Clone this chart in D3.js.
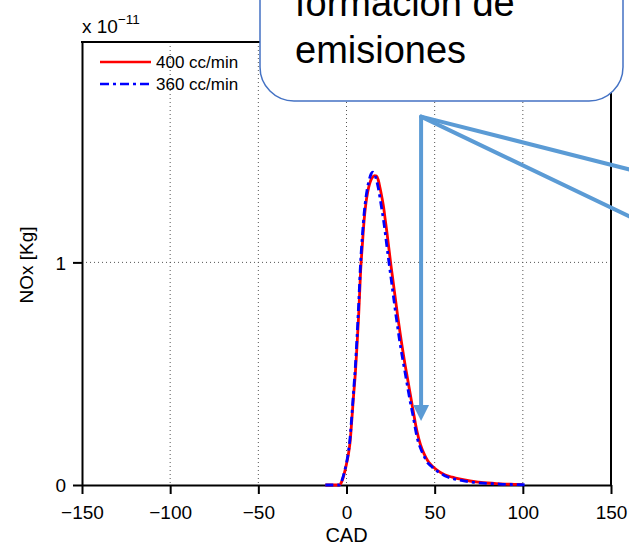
<!DOCTYPE html>
<html>
<head>
<meta charset="utf-8">
<script src="https://cdn.jsdelivr.net/npm/d3@7"></script>
<style>
  html, body { margin: 0; padding: 0; background: #fff; }
  svg { display: block; }
  text { font-family: "Liberation Sans", Arial, sans-serif; }
</style>
</head>
<body>
<svg id="chart" width="629" height="546"></svg>
<script>
// Crank angle (deg) sample points
const cad400 = [-12, -8, -4, -3, -2, -1, 0, 1, 2, 3, 4, 5, 6, 7, 8, 9, 10, 11, 12, 13, 14, 15, 16, 17, 18, 19, 20,
  21, 22, 23, 24, 25, 26, 27, 28, 29, 30, 31, 32, 33, 34, 35, 36, 37, 38, 39, 40, 42, 44, 46, 48, 50,
  53, 56, 60, 64, 70, 75, 80, 85, 90, 95, 100];
// NOx mass, units of 1e-11 kg — 400 cc/min
const nox400 = [0, 0, 0, 0.01, 0.03, 0.06, 0.095, 0.135, 0.19, 0.29, 0.40, 0.50, 0.63, 0.78, 0.96, 1.08, 1.19,
  1.265, 1.315, 1.35, 1.373, 1.385, 1.39, 1.388, 1.37, 1.335, 1.295, 1.25, 1.19, 1.13, 1.065, 1.0, 0.94,
  0.88, 0.82, 0.76, 0.705, 0.65, 0.60, 0.55, 0.505, 0.46, 0.415, 0.37, 0.325, 0.28, 0.24, 0.18, 0.14, 0.11,
  0.09, 0.075, 0.058, 0.045, 0.035, 0.027, 0.018, 0.013, 0.009, 0.006, 0.004, 0.003, 0.002];

const cad360 = [-12, -8, -4, -3, -2, -1, 0, 1, 2, 3, 4, 5, 6, 7, 8, 9, 10, 11, 12, 13, 14, 15, 16, 17, 18, 19, 20,
  21, 22, 23, 24, 25, 26, 27, 28, 29, 30, 31, 32, 33, 34, 35, 36, 37, 38, 39, 40, 42, 44, 46, 48, 50,
  53, 56, 60, 64, 70, 75, 80, 85, 90, 95, 101];
// NOx mass, units of 1e-11 kg — 360 cc/min
const nox360 = [0, 0, 0, 0.012, 0.035, 0.065, 0.10, 0.145, 0.21, 0.31, 0.42, 0.53, 0.67, 0.83, 1.0, 1.12, 1.22,
  1.29, 1.34, 1.375, 1.398, 1.405, 1.395, 1.37, 1.335, 1.29, 1.24, 1.19, 1.13, 1.065, 1.005, 0.945, 0.885,
  0.825, 0.765, 0.71, 0.655, 0.605, 0.56, 0.515, 0.47, 0.425, 0.38, 0.34, 0.30, 0.255, 0.215, 0.165, 0.13,
  0.10, 0.085, 0.07, 0.055, 0.04, 0.03, 0.022, 0.014, 0.01, 0.007, 0.005, 0.003, 0.002, 0.001];

const seriesNames = ["400 cc/min", "360 cc/min"];
const xTicks = [-150, -100, -50, 0, 50, 100, 150];
const yTicks = [0, 1];
const calloutLines = ["formación de", "emisiones"];

const svg = d3.select("#chart");
const x = d3.scaleLinear().domain([-150, 150]).range([82, 611]);
const y = d3.scaleLinear().domain([0, 1.99]).range([485, 42]);

const fmt = v => (v < 0 ? "\u2212" + Math.abs(v) : String(v));

// grid
const grid = svg.append("g").attr("stroke", "#555").attr("stroke-width", 1)
  .attr("stroke-dasharray", "1,3");
xTicks.filter(t => t > -150 && t < 150).forEach(t => {
  grid.append("line").attr("x1", x(t)).attr("x2", x(t)).attr("y1", y.range()[1]).attr("y2", y(0));
});
yTicks.filter(t => t > 0).forEach(t => {
  grid.append("line").attr("x1", x(-150)).attr("x2", x(150)).attr("y1", y(t)).attr("y2", y(t));
});

// axes
const xAxis = d3.axisBottom(x).tickValues(xTicks).tickFormat(fmt).tickSizeInner(9).tickSizeOuter(0).tickPadding(12);
const gx = svg.append("g").attr("transform", `translate(0,${y(0)})`).call(xAxis);
const yAxis = d3.axisLeft(y).tickValues(yTicks).tickFormat(fmt).tickSizeInner(9).tickSizeOuter(0).tickPadding(7);
const gy = svg.append("g").attr("transform", `translate(${x(-150)},0)`).call(yAxis);
[gx, gy].forEach(g => {
  g.select(".domain").attr("stroke", "#000").attr("stroke-width", 2);
  g.selectAll(".tick line").attr("stroke", "#000").attr("stroke-width", 2);
  g.selectAll(".tick text").attr("fill", "#000").attr("font-size", 19)
    .attr("font-family", "'Liberation Sans', Arial, sans-serif");
});
gy.selectAll(".tick text").attr("dy", "0.36em");

// box top / right
svg.append("line").attr("x1", x(-150) - 1).attr("x2", x(150) + 1).attr("y1", y.range()[1]).attr("y2", y.range()[1])
  .attr("stroke", "#000").attr("stroke-width", 2);
svg.append("line").attr("x1", x(150)).attr("x2", x(150)).attr("y1", y.range()[1]).attr("y2", y(0))
  .attr("stroke", "#000").attr("stroke-width", 2);

// axis labels
svg.append("text").attr("x", (x(-150) + x(150)) / 2).attr("y", 542).attr("text-anchor", "middle")
  .attr("font-size", 20).text("CAD");
svg.append("text").attr("transform", `translate(33,265) rotate(-90)`)
  .attr("text-anchor", "middle").attr("font-size", 19).text("NOx [Kg]");

// exponent
const ex = svg.append("text").attr("x", 82).attr("y", 33).attr("font-size", 19);
ex.append("tspan").text("x 10");
ex.append("tspan").attr("dy", -9).attr("font-size", 13.5).text("\u221211");

// curves
const line = d3.line().x(d => x(d[0])).y(d => y(d[1])).curve(d3.curveMonotoneX);
const d400 = cad400.map((c, i) => [c, nox400[i]]);
const d360 = cad360.map((c, i) => [c, nox360[i]]);
svg.append("path").datum(d400).attr("d", line).attr("fill", "none")
  .attr("stroke", "#ff0000").attr("stroke-width", 2.8);
svg.append("path").datum(d360).attr("d", line).attr("fill", "none")
  .attr("stroke", "#0000ff").attr("stroke-width", 2.8).attr("stroke-dasharray", "8,4,3,4");

// legend
const leg = svg.append("g");
[["#ff0000", null], ["#0000ff", "9,4,3,4"]].forEach((s, i) => {
  const ly = 62 + i * 22;
  leg.append("line").attr("x1", 100).attr("x2", 151).attr("y1", ly).attr("y2", ly)
    .attr("stroke", s[0]).attr("stroke-width", 2.4).attr("stroke-dasharray", s[1]);
  leg.append("text").attr("x", 156).attr("y", ly + 6).attr("font-size", 17).text(seriesNames[i]);
});

// neighbouring panel's axis label, cut by the page edge
svg.append("text").attr("transform", `translate(643,262) rotate(-90)`)
  .attr("text-anchor", "middle").attr("font-size", 19).text("NOx [Kg]");

// callout connectors (data coordinates)
const apex = [42.3, 1.655];
const arrowTip = [42.3, 0.287];
const rayEnds = [[160.5, 1.417], [160.5, 1.206]];
const conn = svg.append("g").attr("stroke", "#5B9BD5").attr("stroke-width", 4).attr("fill", "none");
conn.append("line").attr("x1", x(apex[0])).attr("y1", y(apex[1]))
  .attr("x2", x(arrowTip[0])).attr("y2", y(arrowTip[1]) - 15);
rayEnds.forEach(e => {
  conn.append("line").attr("x1", x(apex[0])).attr("y1", y(apex[1]))
    .attr("x2", x(e[0])).attr("y2", y(e[1])).attr("stroke-linecap", "round");
});
svg.append("path").attr("fill", "#5B9BD5")
  .attr("d", `M${x(arrowTip[0]) - 8},${y(arrowTip[1]) - 16} L${x(arrowTip[0]) + 8},${y(arrowTip[1]) - 16} L${x(arrowTip[0])},${y(arrowTip[1])} Z`);

// callout box
svg.append("rect").attr("x", 260).attr("y", -70).attr("width", 363).attr("height", 171).attr("rx", 34)
  .attr("fill", "#fff").attr("stroke", "#4472C4").attr("stroke-width", 1.5);
calloutLines.forEach((t, i) => {
  svg.append("text").attr("x", 295).attr("y", 16 + i * 47).attr("font-size", 38)
    .attr("font-family", "Lato, 'Open Sans', sans-serif").attr("fill", "#000").text(t);
});
</script>
</body>
</html>
